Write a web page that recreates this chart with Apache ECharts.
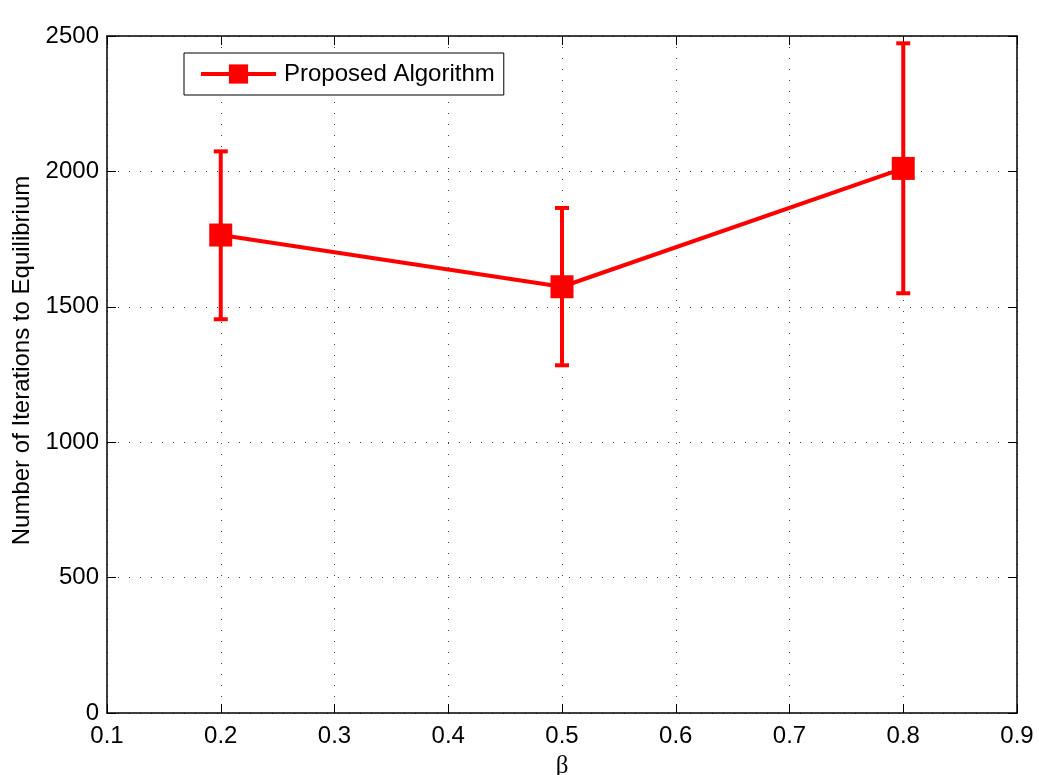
<!DOCTYPE html>
<html>
<head>
<meta charset="utf-8">
<title>Iterations to Equilibrium vs β</title>
<script src="https://cdn.jsdelivr.net/npm/echarts@6/dist/echarts.min.js"></script>
<style>
  html, body { margin: 0; padding: 0; background: #fff; }
  #chart { width: 1039px; height: 775px; }
</style>
</head>
<body>
<div id="chart"></div>
<script>
// Mean iterations with error bounds for each β
const betaValues = [0.2, 0.5, 0.8];
const meanIterations = [1765, 1574, 2011];
const lowerBounds = [1454, 1284, 1550];
const upperBounds = [2074, 1865, 2473];

const xTicks = { min: 0.1, max: 0.9, interval: 0.1 };
const yTicks = { min: 0, max: 2500, interval: 500 };

const seriesColor = '#ff0000';
const fontFamily = 'Liberation Sans, Arial, Helvetica, sans-serif';

const chart = echarts.init(document.getElementById('chart'));

const meanPoints = betaValues.map((b, i) => [b, meanIterations[i]]);
const errorPoints = betaValues.map((b, i) => [b, lowerBounds[i], upperBounds[i]]);

const dottedGrid = { show: true, lineStyle: { color: '#444', type: [1, 10], width: 1 } };

function renderErrorBar(params, api) {
  const x = api.value(0);
  const lo = api.coord([x, api.value(1)]);
  const hi = api.coord([x, api.value(2)]);
  const capHalf = 7;
  const style = { stroke: seriesColor, lineWidth: 4, fill: null };
  return {
    type: 'group',
    children: [
      { type: 'line', shape: { x1: lo[0], y1: lo[1], x2: hi[0], y2: hi[1] }, style },
      { type: 'line', shape: { x1: hi[0] - capHalf, y1: hi[1], x2: hi[0] + capHalf, y2: hi[1] }, style },
      { type: 'line', shape: { x1: lo[0] - capHalf, y1: lo[1], x2: lo[0] + capHalf, y2: lo[1] }, style }
    ]
  };
}

const axisLabelStyle = { color: '#000', fontSize: 24, fontFamily };

chart.setOption({
  animation: false,
  backgroundColor: '#fff',
  grid: { left: 107, right: 22, top: 36, bottom: 62, containLabel: false, outerBoundsMode: 'none' },
  legend: {
    left: 184,
    top: 53,
    orient: 'vertical',
    backgroundColor: '#fff',
    borderColor: '#000',
    borderWidth: 1,
    borderRadius: 0,
    padding: [9, 9, 9, 15],
    itemWidth: 75,
    itemHeight: 24,
    lineStyle: { width: 4 },
    data: ['Proposed Algorithm'],
    textStyle: { color: '#000', fontSize: 24, fontFamily, padding: [0, 0, 0, 3] }
  },
  xAxis: [
    {
      type: 'value',
      min: xTicks.min, max: xTicks.max, interval: xTicks.interval,
      name: 'β',
      nameLocation: 'middle',
      nameGap: 41,
      nameTextStyle: { color: '#000', fontSize: 25, fontFamily: 'Liberation Serif, DejaVu Serif, serif' },
      axisLine: { show: true, onZero: false, lineStyle: { color: '#000', width: 1.5 } },
      axisTick: { show: true, inside: true, length: 9, lineStyle: { color: '#000' } },
      axisLabel: Object.assign({ margin: 11, formatter: v => (Math.round(v * 10) / 10).toString() }, axisLabelStyle),
      splitLine: dottedGrid
    },
    {
      type: 'value', position: 'top',
      min: xTicks.min, max: xTicks.max, interval: xTicks.interval,
      axisLine: { show: true, onZero: false, lineStyle: { color: '#000', width: 1.5 } },
      axisTick: { show: true, inside: true, length: 9, lineStyle: { color: '#000' } },
      axisLabel: { show: false },
      splitLine: { show: false }
    }
  ],
  yAxis: [
    {
      type: 'value',
      min: yTicks.min, max: yTicks.max, interval: yTicks.interval,
      name: 'Number of Iterations to Equilibrium',
      nameLocation: 'middle',
      nameGap: 70,
      nameTextStyle: { color: '#000', fontSize: 24, fontFamily, padding: [0, 0, 0, 28] },
      axisLine: { show: true, onZero: false, lineStyle: { color: '#000', width: 1.5 } },
      axisTick: { show: true, inside: true, length: 9, lineStyle: { color: '#000' } },
      axisLabel: Object.assign({ margin: 8, formatter: v => String(v) }, axisLabelStyle),
      splitLine: dottedGrid
    },
    {
      type: 'value', position: 'right',
      min: yTicks.min, max: yTicks.max, interval: yTicks.interval,
      axisLine: { show: true, onZero: false, lineStyle: { color: '#000', width: 1.5 } },
      axisTick: { show: true, inside: true, length: 9, lineStyle: { color: '#000' } },
      axisLabel: { show: false },
      splitLine: { show: false }
    }
  ],
  series: [
    {
      name: 'Error',
      type: 'custom',
      renderItem: renderErrorBar,
      data: errorPoints,
      encode: { x: 0, y: [1, 2] },
      z: 2,
      silent: true
    },
    {
      name: 'Proposed Algorithm',
      type: 'line',
      data: meanPoints,
      symbol: 'rect',
      symbolSize: 23,
      showAllSymbol: true,
      itemStyle: { color: seriesColor },
      lineStyle: { color: seriesColor, width: 4 },
      z: 3
    }
  ]
});
</script>
</body>
</html>
